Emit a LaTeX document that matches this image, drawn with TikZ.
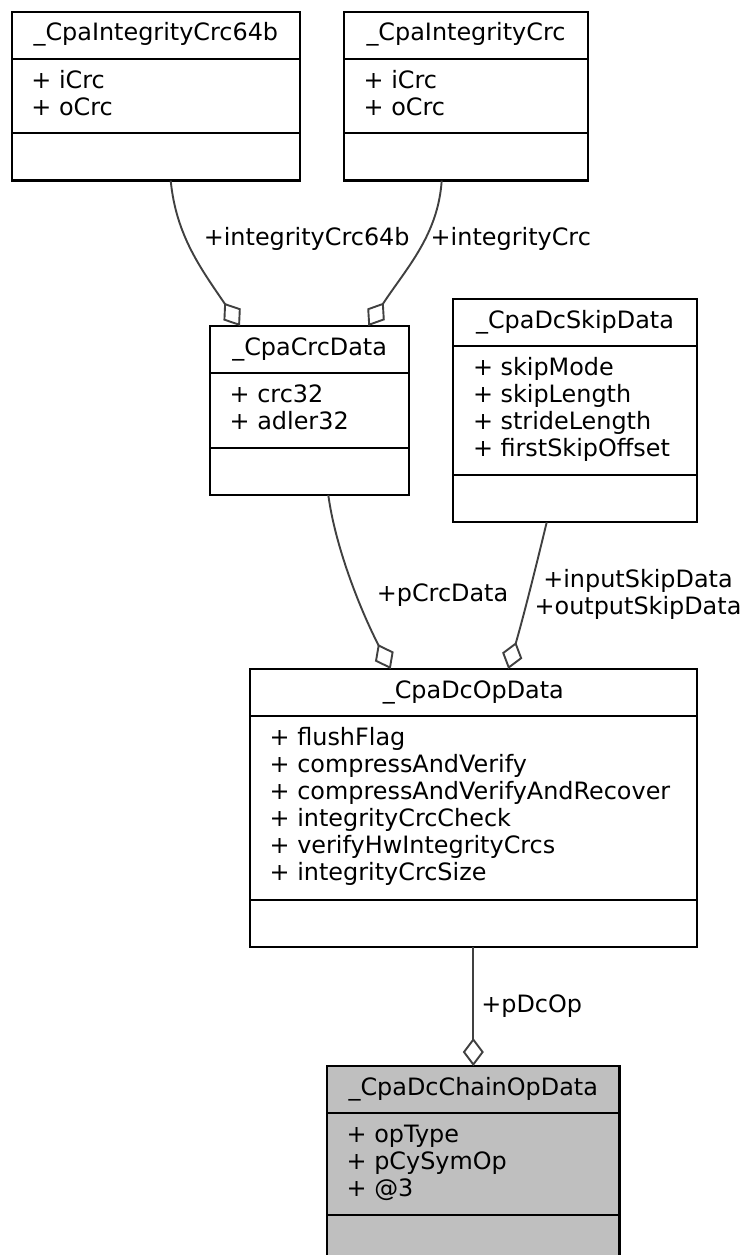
\documentclass[tikz,border=0pt]{standalone}
\usepackage{fontspec}
\setmainfont{DejaVu Sans}
\usetikzlibrary{arrows.meta}
\definecolor{edgegrey}{HTML}{404040}
\definecolor{focusgrey}{HTML}{BFBFBF}
\tikzset{
  classbox/.style={draw=black, line width=2.3pt, inner sep=0pt, outer sep=0pt, rectangle},
  divider/.style={draw=black, line width=2.3pt},
  hdr/.style={anchor=base, inner sep=0pt},
  attr/.style={anchor=base west, inner sep=0pt},
  rel/.style={draw=edgegrey, line width=1.9pt, -{Diamond[open, length=28pt, width=21pt]}},
  lbl/.style={anchor=base, inner sep=0pt},
}
\newcommand\umlclass[8]{%
  \node[classbox, fill=#8, minimum width={#3-#2}, minimum height={#5+47.3-#4}] (#1) at ({(#2+#3)/2},{(#4+#5+47.3)/2}) {};
  \draw[divider] (#2,{#4+47.3}) -- (#3,{#4+47.3});
  \draw[divider] (#2,#5) -- (#3,#5);
  \node[hdr] (#1-h) at ({(#2+#3)/2},{#4+29.3}) {#6};
  \foreach \t [count=\i from 0] in {#7} {\node[attr] (#1-a\i) at ({#2+19.5},{#4+47.3+29.5+\i*27}) {\t};}
}
\begin{document}
\begin{tikzpicture}[x=1pt, y=-1pt, font=\fontsize{23.9}{27}\selectfont]
\useasboundingbox (0,0) rectangle (745,1255);
\fill[white] (0,0) rectangle (745,1255);
\clip (0,0) rectangle (745,1255);

\umlclass{crc64}{11.7}{300}{11.7}{133.3}{\_CpaIntegrityCrc64b}{+ iCrc,+ oCrc}{white}
\umlclass{crc}{344}{588}{11.7}{133.3}{\_CpaIntegrityCrc}{+ iCrc,+ oCrc}{white}
\umlclass{crcdata}{210}{409.3}{326}{447.7}{\_CpaCrcData}{+ crc32,+ adler32}{white}
\umlclass{skip}{453.3}{696.7}{299}{475}{\_CpaDcSkipData}{+ skipMode,+ skipLength,+ strideLength,+ firstSkipOffset}{white}
\umlclass{op}{250}{696.7}{669}{900}{\_CpaDcOpData}{+ flushFlag,+ compressAndVerify,+ compressAndVerifyAndRecover,+ integrityCrcCheck,+ verifyHwIntegrityCrcs,+ integrityCrcSize}{white}
\umlclass{chain}{327}{619.5}{1066}{1215}{\_CpaDcChainOpData}{+ opType,+ pCySymOp,+ @3}{focusgrey}

\draw[rel] (170.7,0 |- crc64.south) .. controls (176,235) and (200.6,268.3) .. (240,0 |- crcdata.north);
\draw[rel] (441.7,0 |- crc.south) .. controls (438,235) and (406.9,267.5) .. (368.3,0 |- crcdata.north);
\draw[rel] (328.3,0 |- crcdata.south) .. controls (335,545) and (358.8,606.8) .. (390.7,0 |- op.north);
\draw[rel] (546.7,0 |- skip.south) .. controls (540,550) and (525,611.4) .. (508.3,0 |- op.north);
\draw[rel] (473.3,0 |- op.south) -- (473.3,0 |- chain.north);

\node[lbl] (l1) at (306.7,245.7) {+integrityCrc64b};
\node[lbl] (l2) at (510.8,245.7) {+integrityCrc};
\node[lbl] (l3) at (442.5,601) {+pCrcData};
\node[lbl] (l4) at (638,587) {+inputSkipData};
\node[lbl] (l5) at (638,614) {+outputSkipData};
\node[lbl] (l6) at (531.7,1012.7) {+pDcOp};
\end{tikzpicture}
\end{document}
